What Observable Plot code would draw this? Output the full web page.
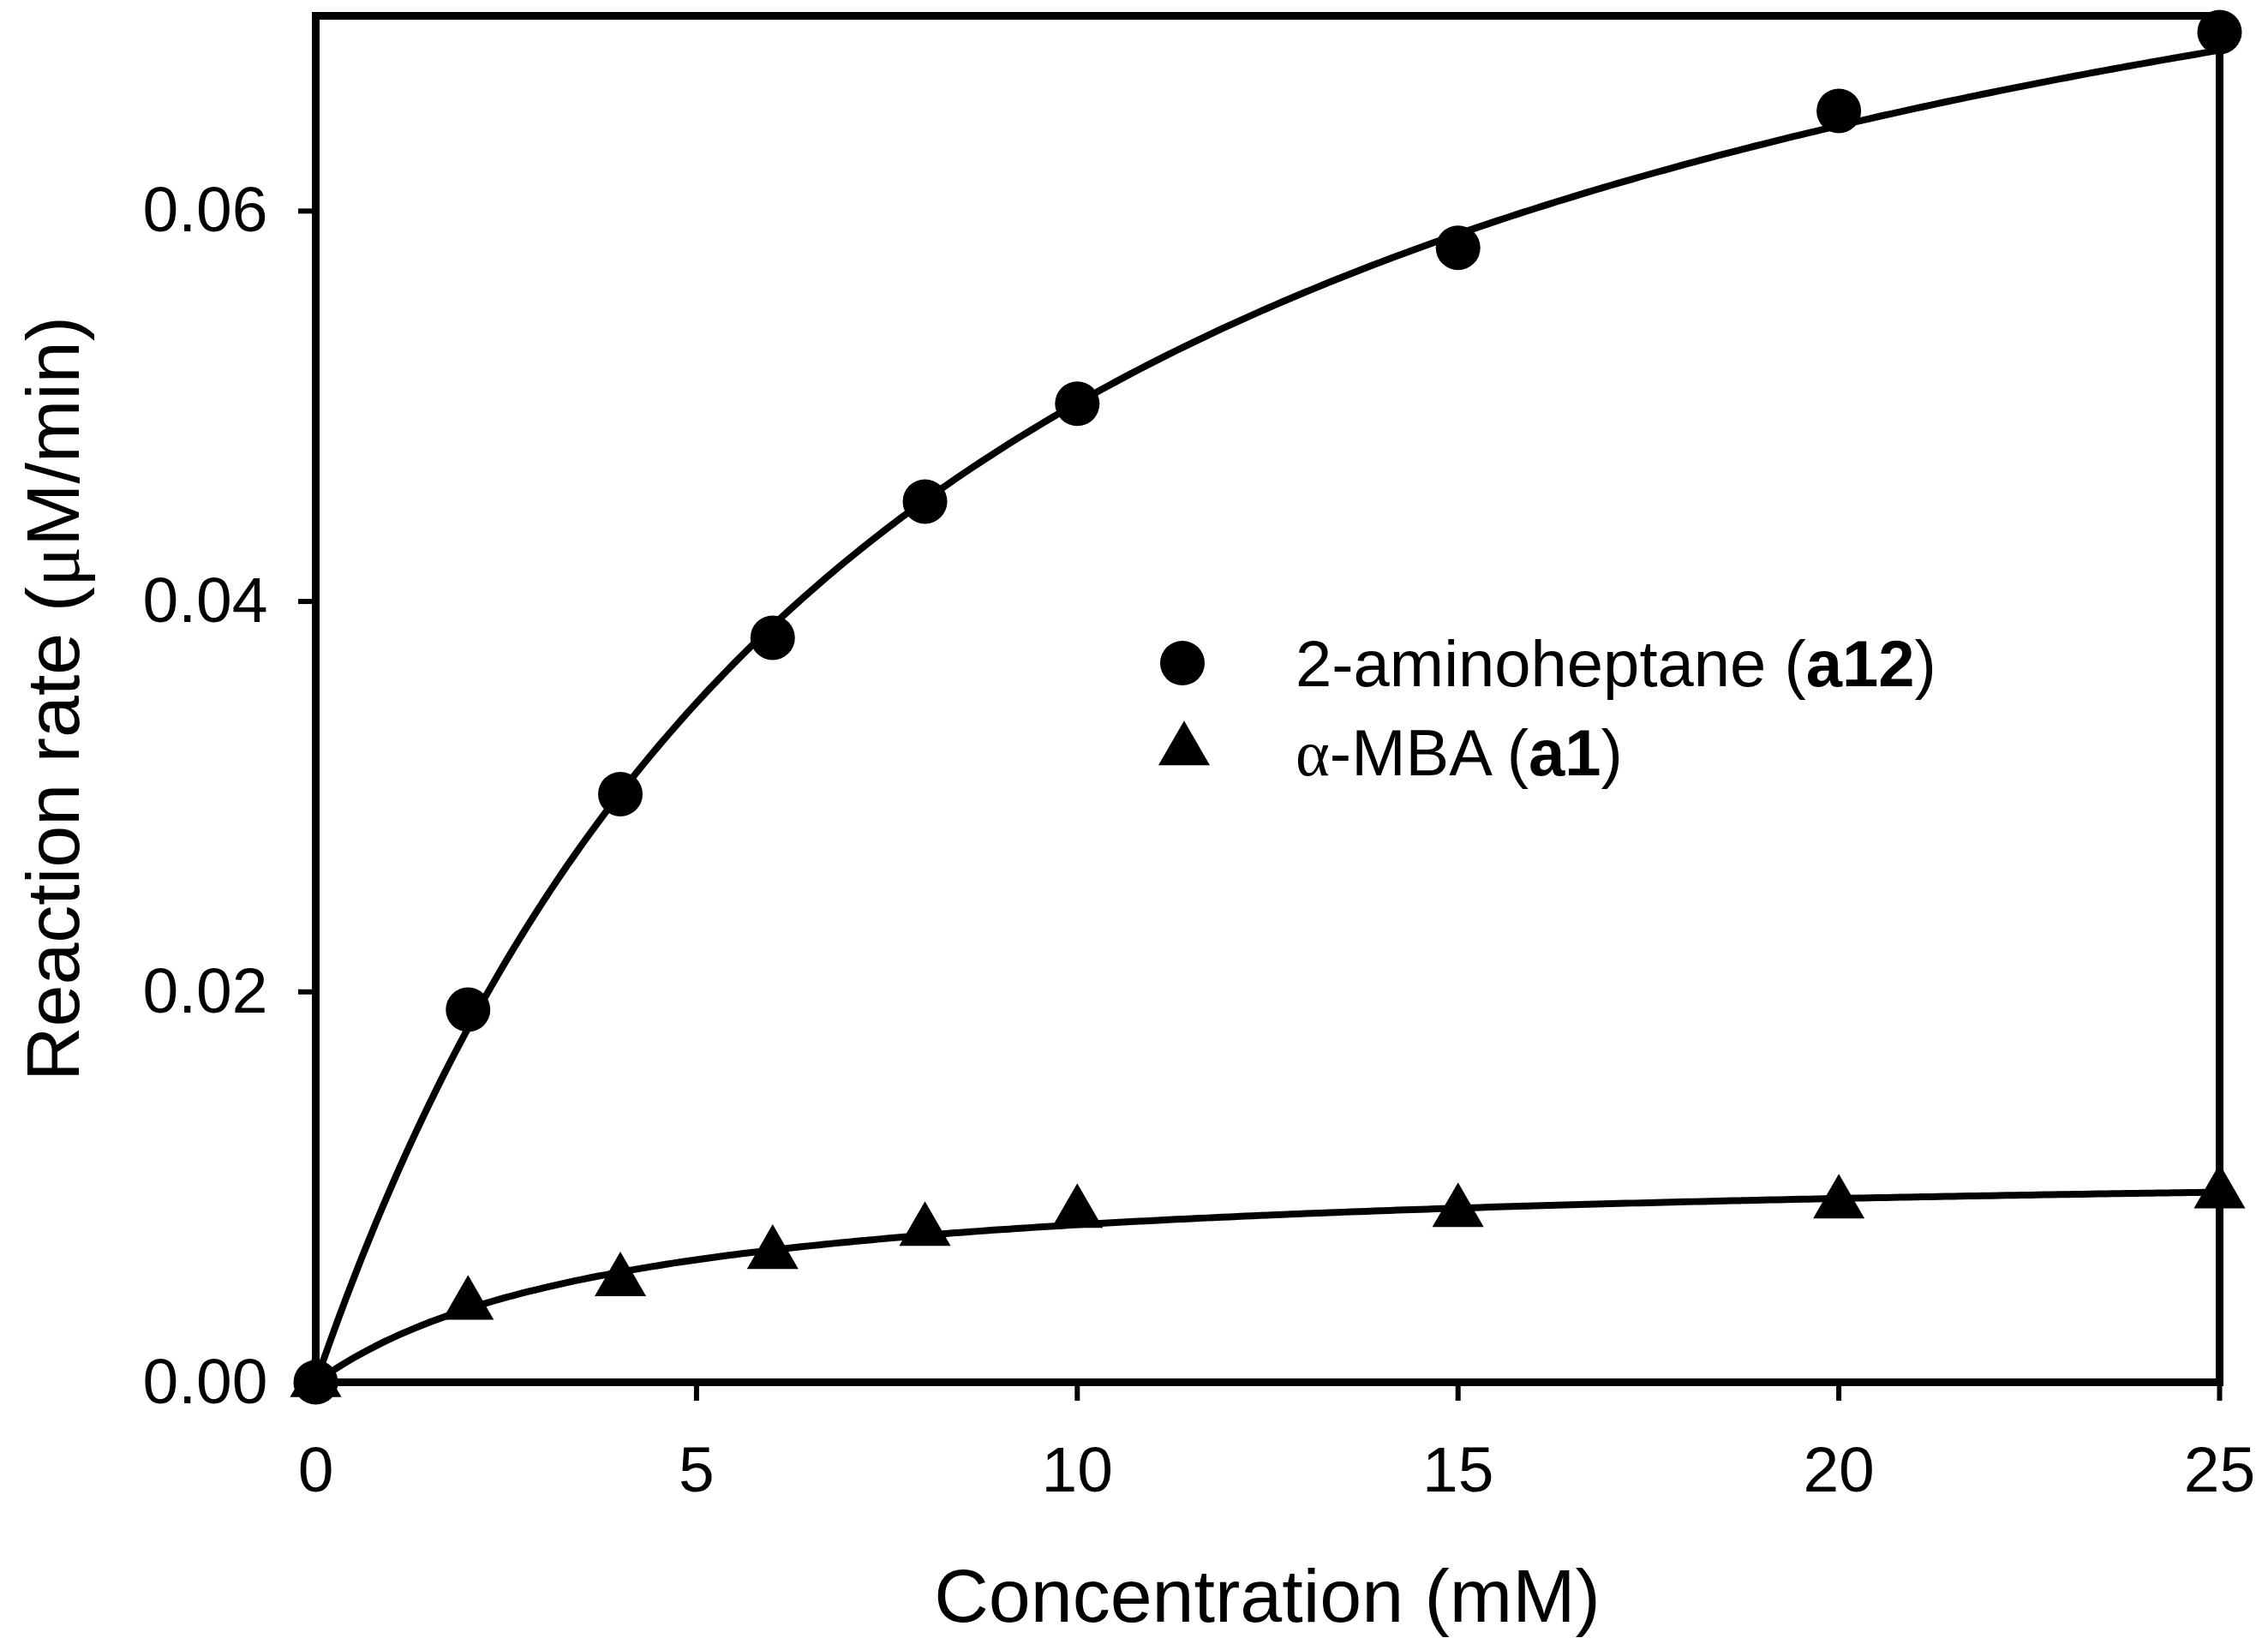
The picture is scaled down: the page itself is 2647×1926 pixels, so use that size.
<!DOCTYPE html>
<html>
<head>
<meta charset="utf-8">
<script src="https://cdn.jsdelivr.net/npm/d3@7"></script>
<script src="https://cdn.jsdelivr.net/npm/@observablehq/plot@0.6"></script>
<style>
  html, body { margin: 0; padding: 0; background: #ffffff; }
  #chart svg { display: block; }
</style>
</head>
<body>
<div id="chart"></div>
<script>
// ---- data ----
const concentration = [0, 2, 4, 6, 8, 10, 15, 20, 25];              // mM
const rateA12 = [0, 0.01909, 0.03013, 0.03814, 0.04512, 0.05013, 0.05812, 0.06513, 0.06917]; // 2-aminoheptane
const rateA1  = [0, 0.00397, 0.00517, 0.00657, 0.00775, 0.00867, 0.00872, 0.00915, 0.00967]; // alpha-MBA

// Michaelis–Menten fit parameters
const vmaxA12 = 0.0898, kmA12 = 7.9;
const vmaxA1  = 0.0113, kmA1  = 4.0;

const xTicks = [0, 5, 10, 15, 20, 25];
const yTicks = [0, 0.02, 0.04, 0.06];
const xLabel = "Concentration (mM)";
const seriesNames = ["2-aminoheptane", "-MBA"];
const seriesCodes = ["a12", "a1"];

// ---- tables for the library ----
const ptsA12 = concentration.map((c, i) => ({c, v: rateA12[i]}));
const ptsA1  = concentration.map((c, i) => ({c, v: rateA1[i]}));
const curveX = d3.range(0, 25.0001, 0.1);
const fitCurve = (vmax, km) => curveX.map(c => ({c, v: vmax * c / (km + c)}));

const W = 2647, H = 1926;
const mL = 368, mR = 57, mT = 18, mB = 313;
const font = "'Liberation Sans', Arial, Helvetica, sans-serif";
const serif = "'Liberation Serif', 'Times New Roman', serif";

const plot = Plot.plot({
  width: W,
  height: H,
  marginLeft: mL,
  marginRight: mR,
  marginTop: mT,
  marginBottom: mB,
  style: {fontFamily: font, background: "white", color: "black", overflow: "visible"},
  x: {domain: [0, 25]},
  y: {domain: [0, 0.07]},
  marks: [
    Plot.axisX({ticks: xTicks, tickSize: 22, tickPadding: 52, tickFormat: d => String(d),
                fontSize: 75, strokeWidth: 6, label: null}),
    Plot.axisY({ticks: yTicks, tickSize: 20, tickPadding: 36, tickFormat: d3.format(".2f"),
                fontSize: 75, strokeWidth: 6, label: null}),
    Plot.frame({stroke: "black", strokeWidth: 9}),
    Plot.line(fitCurve(vmaxA12, kmA12), {x: "c", y: "v", stroke: "black", strokeWidth: 8}),
    Plot.line(fitCurve(vmaxA1, kmA1), {x: "c", y: "v", stroke: "black", strokeWidth: 8}),
    Plot.dot(ptsA12, {x: "c", y: "v", r: 26, symbol: "circle", fill: "black", stroke: "none"}),
    Plot.dot(ptsA1, {x: "c", y: "v", r: 22.3, symbol: "triangle", fill: "black", stroke: "none"})
  ]
});

document.getElementById("chart").appendChild(plot);

const svg = d3.select(plot);
svg.selectAll("g[aria-label='x-axis tick'] path, g[aria-label='y-axis tick'] path")
   .attr("stroke-width", 6).attr("stroke", "black");
svg.selectAll("g[aria-label='x-axis tick label'], g[aria-label='y-axis tick label']")
   .attr("fill", "black");

// axis titles
const innerCx = mL + (W - mL - mR) / 2;
const innerCy = mT + (H - mT - mB) / 2;

svg.append("text")
  .attr("x", innerCx).attr("y", 1893)
  .attr("text-anchor", "middle")
  .attr("font-family", font).attr("font-size", 88).attr("fill", "black")
  .text(xLabel);

const yl = svg.append("text")
  .attr("transform", `translate(92,${innerCy}) rotate(-90)`)
  .attr("text-anchor", "middle")
  .attr("font-family", font).attr("font-size", 88).attr("fill", "black");
yl.append("tspan").text("Reaction rate (");
yl.append("tspan").attr("font-family", serif).text("\u03BC");
yl.append("tspan").text("M/min)");

// legend
const lg = svg.append("g").attr("aria-label", "legend").attr("text-anchor", "start");
lg.append("circle").attr("cx", 1380).attr("cy", 774).attr("r", 26).attr("fill", "black");
lg.append("path")
  .attr("d", d3.symbol(d3.symbolTriangle, Math.PI * 22.3 * 22.3)())
  .attr("transform", "translate(1382,876)")
  .attr("fill", "black");

const t1 = lg.append("text").attr("x", 1512).attr("y", 801).attr("text-anchor", "start")
  .attr("font-family", font).attr("font-size", 76).attr("fill", "black");
t1.append("tspan").text(seriesNames[0] + " (");
t1.append("tspan").attr("font-weight", "bold").text(seriesCodes[0]);
t1.append("tspan").text(")");

const t2 = lg.append("text").attr("x", 1512).attr("y", 905).attr("text-anchor", "start")
  .attr("font-family", font).attr("font-size", 76).attr("fill", "black");
t2.append("tspan").attr("font-family", serif).text("\u03B1");
t2.append("tspan").text(seriesNames[1] + " (");
t2.append("tspan").attr("font-weight", "bold").text(seriesCodes[1]);
t2.append("tspan").text(")");
</script>
</body>
</html>
